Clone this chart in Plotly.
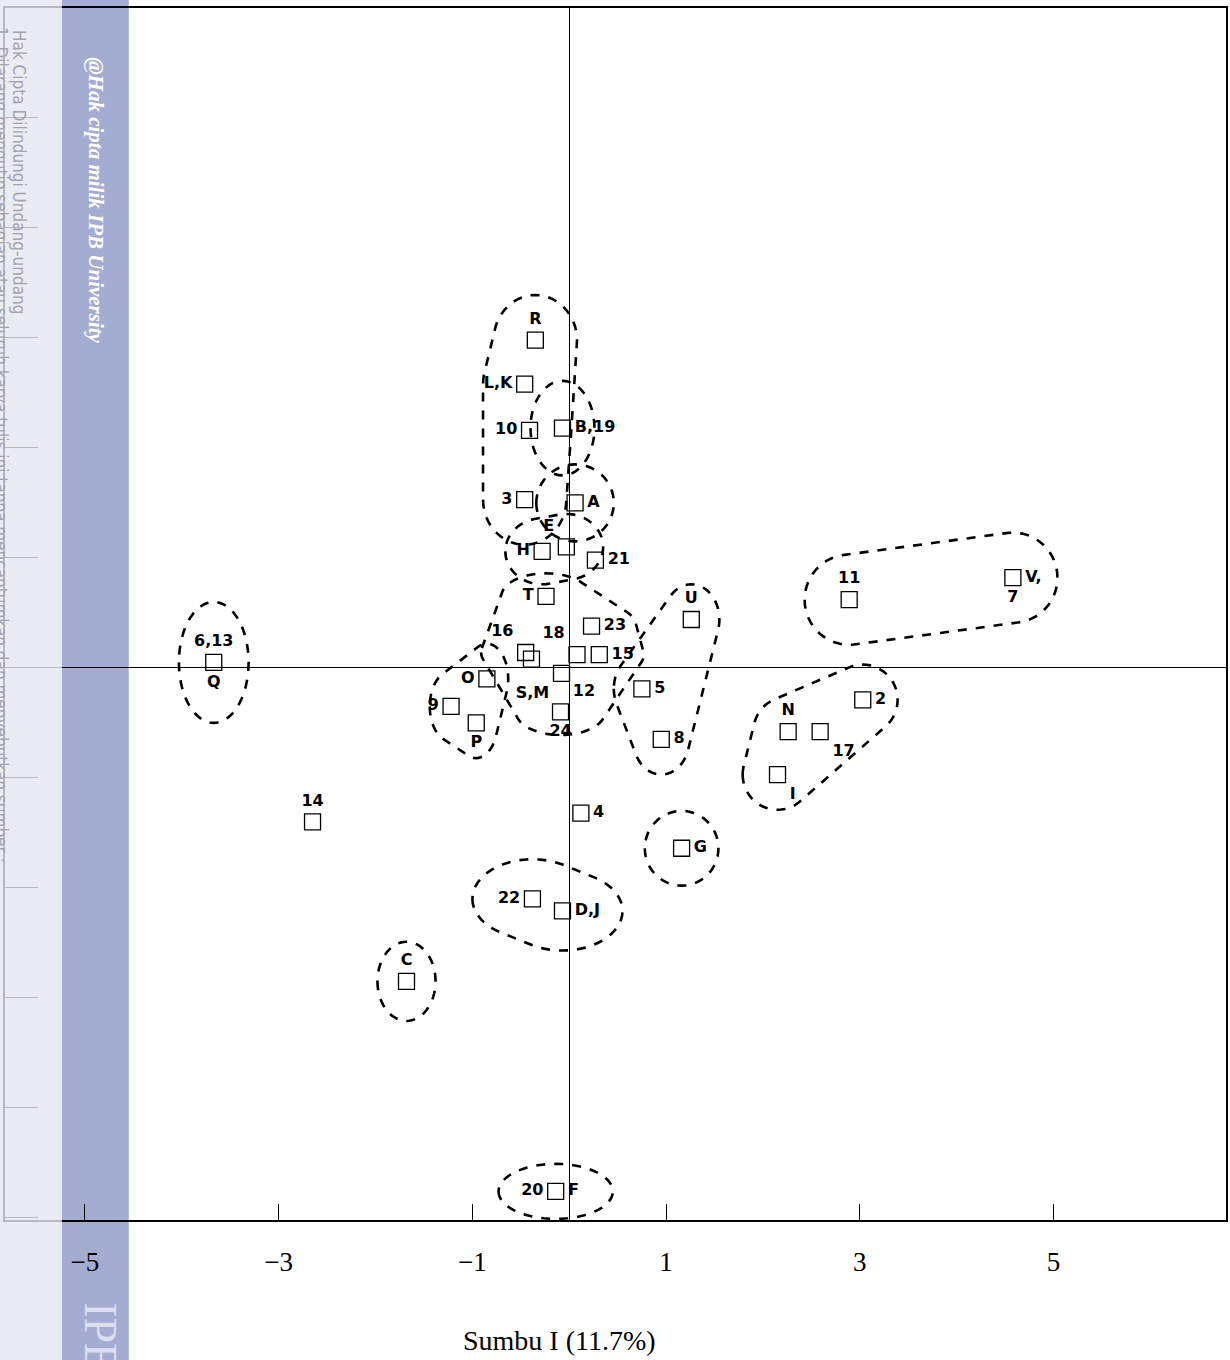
import numpy as np
import plotly.graph_objects as go

# ---------------- data ----------------
point_keys = ["R", "LK", "10", "B19", "3", "A", "E", "H", "21", "T", "23",
              "16a", "16b", "18", "15", "O", "SM", "9", "P", "12", "5", "8",
              "U", "11", "V7", "2", "N", "17", "I", "G", "4", "14", "22",
              "DJ", "C", "20F", "Q"]
point_x = [-0.35, -0.46, -0.41, -0.07, -0.46, 0.06, -0.03, -0.28, 0.27, -0.24, 0.23,
           -0.45, -0.39, 0.08, 0.31, -0.85, -0.08, -1.22, -0.96, -0.09, 0.75, 0.95,
           1.26, 2.89, 4.58, 3.03, 2.26, 2.59, 2.15, 1.16, 0.12, -2.65, -0.38,
           -0.07, -1.68, -0.14, -3.67]
point_y = [2.98, 2.58, 2.16, 2.18, 1.53, 1.50, 1.10, 1.06, 0.98, 0.65, 0.38,
           0.14, 0.08, 0.12, 0.12, -0.10, -0.05, -0.35, -0.50, -0.40, -0.19, -0.65,
           0.44, 0.62, 0.82, -0.29, -0.58, -0.58, -0.97, -1.64, -1.32, -1.40, -2.10,
           -2.21, -2.85, -4.76, 0.05]

label_text = ["R", "L,K", "10", "B,19", "3", "A", "E", "H", "21", "T", "23",
              "16", "18", "15", "O", "S,M", "9", "P", "12", "24", "5", "8",
              "U", "11", "V,", "7", "2", "N", "17", "I", "G", "4", "14", "22",
              "D,J", "C", "20", "F", "6,13", "Q"]
label_point = ["R", "LK", "10", "B19", "3", "A", "E", "H", "21", "T", "23",
               "16a", "18", "15", "O", "SM", "9", "P", "12", "12", "5", "8",
               "U", "11", "V7", "V7", "2", "N", "17", "I", "G", "4", "14", "22",
               "DJ", "C", "20F", "20F", "Q", "Q"]
label_pos = ["top center", "middle left", "middle left", "middle right", "middle left",
             "middle right", "top left", "middle left", "middle right", "middle left",
             "middle right", "top left", "top left", "middle right", "middle left",
             "bottom left", "middle left", "bottom center", "top right", "bottom center",
             "middle right", "middle right", "top center", "top center", "middle right",
             "bottom center", "middle right", "top center", "bottom right", "bottom right",
             "middle right", "middle right", "top center", "middle left", "middle right",
             "top center", "middle left", "middle right", "top center", "bottom center"]

# groups circled by hand (members) and their padding (style)
groups = [["Q"], ["R", "LK", "10", "3"], ["B19"], ["A"], ["H", "E"],
          ["T", "16a", "16b", "18", "23", "15", "SM", "12"], ["O", "9", "P"],
          ["U", "5", "8"], ["11", "V7"], ["N", "17", "2", "I"], ["G"],
          ["22", "DJ"], ["C"], ["20F"]]
group_pad = [(0.36, 0.55), (0.43, 0.41), (0.33, 0.43), (0.40, 0.35), (0.38, 0.30),
             (0.46, 0.21), (0.22, 0.32), (0.29, 0.32), (0.46, 0.41), (0.36, 0.32),
             (0.38, 0.34), (0.62, 0.36), (0.30, 0.36), (0.59, 0.25)]

x_tick_vals = [-5, -3, -1, 1, 3, 5]

# ---------------- helpers ----------------
pt = {k: (x, y) for k, x, y in zip(point_keys, point_x, point_y)}


def hull(points):
    pts = sorted(set(points))
    if len(pts) <= 2:
        return pts

    def cross(o, a, b):
        return (a[0] - o[0]) * (b[1] - o[1]) - (a[1] - o[1]) * (b[0] - o[0])
    lower, upper = [], []
    for p in pts:
        while len(lower) >= 2 and cross(lower[-2], lower[-1], p) <= 0:
            lower.pop()
        lower.append(p)
    for p in reversed(pts):
        while len(upper) >= 2 and cross(upper[-2], upper[-1], p) <= 0:
            upper.pop()
        upper.append(p)
    return lower[:-1] + upper[:-1]


def group_path(members, rx, ry):
    t = np.linspace(0, 2 * np.pi, 60, endpoint=False)
    cloud = []
    for m in members:
        cx, cy = pt[m]
        cloud += [(round(cx + rx * np.cos(a), 5), round(cy + ry * np.sin(a), 5)) for a in t]
    h = hull(cloud)
    return "M " + " L ".join(f"{x},{y}" for x, y in h) + " Z"


# ---------------- figure ----------------
fig = go.Figure()

fig.add_trace(go.Scatter(
    x=point_x, y=point_y, mode="markers",
    marker=dict(symbol="square-open", size=16, color="black", line=dict(width=1.3)),
    hoverinfo="skip", showlegend=False))

fig.add_trace(go.Scatter(
    x=[pt[k][0] for k in label_point], y=[pt[k][1] for k in label_point],
    mode="markers+text", text=label_text, textposition=label_pos,
    marker=dict(size=18, color="rgba(0,0,0,0)"),
    textfont=dict(family="DejaVu Sans", size=16, color="black", weight="bold"),
    hoverinfo="skip", showlegend=False))

shapes = []
for members, (rx, ry) in zip(groups, group_pad):
    shapes.append(dict(type="path", xref="x", yref="y", path=group_path(members, rx, ry),
                       line=dict(color="black", width=2.6, dash="dash"),
                       fillcolor="rgba(0,0,0,0)", layer="above"))

# watermark bands (page-level overlay)
W, H = 1230, 1360
ml, mr, mt, mb = 5, 2, 8, 140
pw, ph = W - ml - mr, H - mt - mb


def px_x(p):
    return (p - ml) / pw


def px_y(p):
    return (H - mb - p) / ph


shapes.append(dict(type="rect", xref="paper", yref="paper", x0=px_x(-2), x1=px_x(62),
                   y0=px_y(H + 2), y1=px_y(-2), fillcolor="#e6e6f1", opacity=0.8,
                   line=dict(width=0), layer="above"))
shapes.append(dict(type="rect", xref="paper", yref="paper", x0=px_x(62), x1=px_x(129),
                   y0=px_y(H + 2), y1=px_y(-2), fillcolor="#a4acd1", opacity=1.0,
                   line=dict(width=0), layer="below"))

ann_common = dict(xref="paper", yref="paper", showarrow=False,
                  xanchor="center", yanchor="middle")
annotations = [
    dict(text="<b><i>@Hak cipta milik IPB University</i></b>",
         x=px_x(96), y=px_y(200), textangle=90,
         font=dict(family="Liberation Serif", size=21, color="white"), **ann_common),
    dict(text="Hak Cipta Dilindungi Undang-undang",
         x=px_x(19), y=px_y(172), textangle=90,
         font=dict(family="Liberation Sans Narrow, DejaVu Sans Condensed, sans-serif",
                   size=17, color="#a4a4ae"), **ann_common),
    dict(text="1. Dilarang mengutip sebagian atau seluruh karya tulis ini tanpa mencantumkan dan menyebutkan sumber :",
         x=px_x(1), y=px_y(445), textangle=90,
         font=dict(family="Liberation Sans Narrow, DejaVu Sans Condensed, sans-serif",
                   size=17, color="#a4a4ae"), **ann_common),
    dict(text="IPB", x=px_x(101), y=px_y(1338), textangle=90,
         font=dict(family="Liberation Serif", size=46, color="#dcdff0"), **ann_common),
    dict(text="Sumbu I (11.7%)", x=px_x(560), y=px_y(1340),
         font=dict(family="Liberation Serif", size=28, color="black"), **ann_common),
]

fig.update_layout(
    width=W, height=H, margin=dict(l=ml, r=mr, t=mt, b=mb),
    paper_bgcolor="white", plot_bgcolor="rgba(0,0,0,0)",
    shapes=shapes, annotations=annotations, showlegend=False,
    xaxis=dict(range=[-5.825, 6.78], tickvals=x_tick_vals, ticks="inside", ticklen=16,
               tickwidth=1.2, tickcolor="black", showgrid=False, zeroline=True,
               zerolinecolor="black", zerolinewidth=1.4, showline=True, mirror=True,
               linecolor="black", linewidth=1.5, ticklabelstandoff=17,
               tickfont=dict(family="Liberation Serif", size=27, color="black")),
    yaxis=dict(range=[-5.02, 6.0], tick0=0, dtick=1, ticks="inside", ticklen=33,
               tickwidth=1.3, tickcolor="black", showticklabels=False, showgrid=False,
               zeroline=True, zerolinecolor="black", zerolinewidth=1.4, showline=True,
               mirror=True, linecolor="black", linewidth=1.5),
)

fig.write_html("out.html")
